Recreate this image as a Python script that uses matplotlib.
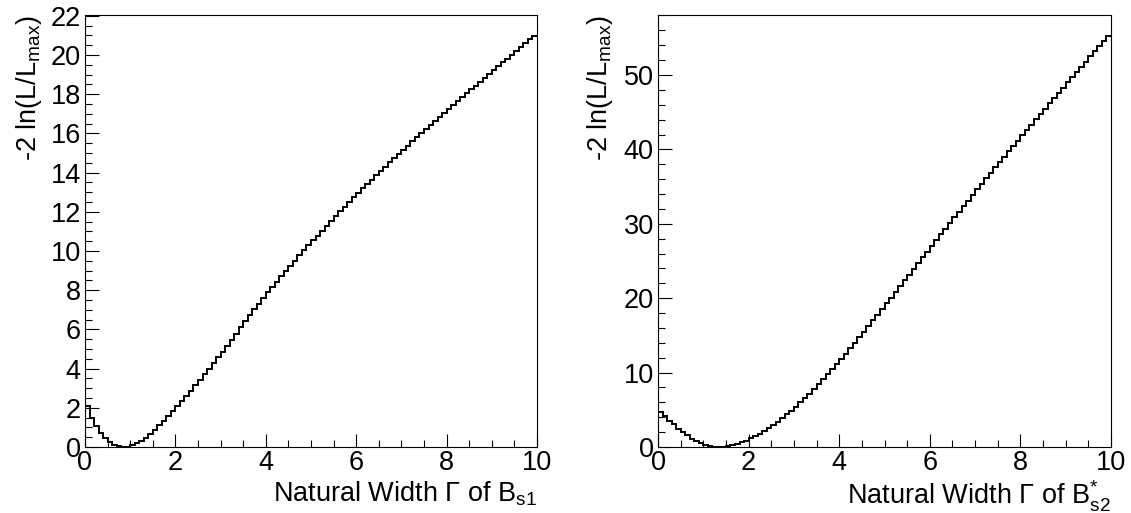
import numpy as np
import matplotlib
matplotlib.use("Agg")
import matplotlib.pyplot as plt
from matplotlib.ticker import MultipleLocator

plt.rcParams['font.family'] = ['Liberation Sans', 'DejaVu Sans']
plt.rcParams['mathtext.fontset'] = 'custom'
plt.rcParams['mathtext.rm'] = 'Liberation Sans'
plt.rcParams['mathtext.it'] = 'Liberation Sans:italic'
plt.rcParams['mathtext.bf'] = 'Liberation Sans:bold'

# Likelihood scans, 100 bins over the width range 0-10
width_range = (0.0, 10.0)
n_bins = 100

nll_bs1 = [
    2.10, 1.50, 1.07, 0.70, 0.44, 0.24, 0.10, 0.03, 0.00, 0.02,
    0.09, 0.19, 0.32, 0.48, 0.67, 0.88, 1.10, 1.33, 1.57, 1.82,
    2.08, 2.34, 2.61, 2.88, 3.15, 3.43, 3.71, 3.99, 4.28, 4.57,
    4.86, 5.16, 5.46, 5.76, 6.10, 6.41, 6.72, 7.02, 7.32, 7.61,
    7.89, 8.17, 8.44, 8.71, 8.98, 9.25, 9.51, 9.77, 10.03, 10.29,
    10.54, 10.79, 11.04, 11.29, 11.54, 11.78, 12.02, 12.26, 12.50, 12.73,
    12.96, 13.19, 13.42, 13.64, 13.86, 14.08, 14.30, 14.52, 14.74, 14.96,
    15.17, 15.38, 15.59, 15.80, 16.01, 16.22, 16.43, 16.64, 16.84, 17.04,
    17.24, 17.44, 17.64, 17.84, 18.04, 18.24, 18.44, 18.64, 18.84, 19.04,
    19.24, 19.43, 19.63, 19.82, 20.02, 20.21, 20.41, 20.60, 20.80, 20.99,
]

nll_bs2 = [
    4.70, 4.10, 3.55, 3.04, 2.48, 2.00, 1.55, 1.12, 0.78, 0.48,
    0.24, 0.09, 0.02, 0.00, 0.01, 0.11, 0.25, 0.42, 0.63, 0.87,
    1.15, 1.46, 1.79, 2.16, 2.55, 2.97, 3.41, 3.88, 4.37, 4.89,
    5.43, 5.99, 6.57, 7.17, 7.79, 8.42, 9.08, 9.75, 10.43, 11.12,
    11.83, 12.55, 13.28, 14.01, 14.75, 15.50, 16.26, 17.01, 17.78, 18.54,
    19.31, 20.08, 20.86, 21.63, 22.40, 23.17, 23.94, 24.72, 25.49, 26.26,
    27.03, 27.80, 28.57, 29.33, 30.09, 30.85, 31.61, 32.37, 33.12, 33.87,
    34.62, 35.37, 36.11, 36.85, 37.58, 38.31, 39.04, 39.76, 40.48, 41.19,
    41.91, 42.62, 43.33, 44.04, 44.75, 45.46, 46.17, 46.88, 47.59, 48.30,
    49.00, 49.70, 50.40, 51.10, 51.80, 52.50, 53.20, 53.90, 54.60, 55.30,
]

x_title_bs1 = r'Natural Width $\Gamma$ of B$_{\mathrm{s1}}$'
x_title_bs2 = r'Natural Width $\Gamma$ of B$_{\mathrm{s2}}^{*}$'
y_title = r'-2 ln(L/L$_{\mathrm{max}}$)'

W, H = 1131, 513
fig = plt.figure(figsize=(W / 100, H / 100), dpi=100)

edges = np.linspace(width_range[0], width_range[1], n_bins + 1)

panels = [
    dict(vals=nll_bs1, left=85, right=537, ymajor=2, yminor=0.5, xtitle=x_title_bs1, ylab_x=29),
    dict(vals=nll_bs2, left=658, right=1111, ymajor=10, yminor=2, xtitle=x_title_bs2, ylab_x=600),
]

top_px, bot_px = 15, 447
fs = 19.5

for p in panels:
    ax = fig.add_axes([p['left'] / W, 1 - bot_px / H,
                       (p['right'] - p['left']) / W, (bot_px - top_px) / H])
    vals = np.asarray(p['vals'])
    ax.stairs(vals, edges, color='black', lw=1.4, baseline=None, clip_on=False)
    ax.set_xlim(*width_range)
    ax.set_ylim(0, 1.05 * vals.max())

    ax.xaxis.set_major_locator(MultipleLocator(2))
    ax.xaxis.set_minor_locator(MultipleLocator(0.5))
    ax.yaxis.set_major_locator(MultipleLocator(p['ymajor']))
    ax.yaxis.set_minor_locator(MultipleLocator(p['yminor']))

    ax.tick_params(axis='both', which='both', direction='in', top=False, right=False,
                   width=0.8, color='black')
    ax.tick_params(axis='x', which='major', length=9.5, pad=2.0, labelsize=fs)
    ax.tick_params(axis='x', which='minor', length=5)
    ax.tick_params(axis='y', which='major', length=10, pad=3.0, labelsize=fs)
    ax.tick_params(axis='y', which='minor', length=5)
    for s in ax.spines.values():
        s.set_linewidth(0.8)

    fig.text(p['right'] / W, 1 - 479 / H, p['xtitle'], ha='right', va='top', fontsize=fs)
    fig.text(p['ylab_x'] / W, 1 - top_px / H, y_title, rotation=90,
             ha='center', va='top', fontsize=fs)

fig.savefig('out.png', dpi=100)
